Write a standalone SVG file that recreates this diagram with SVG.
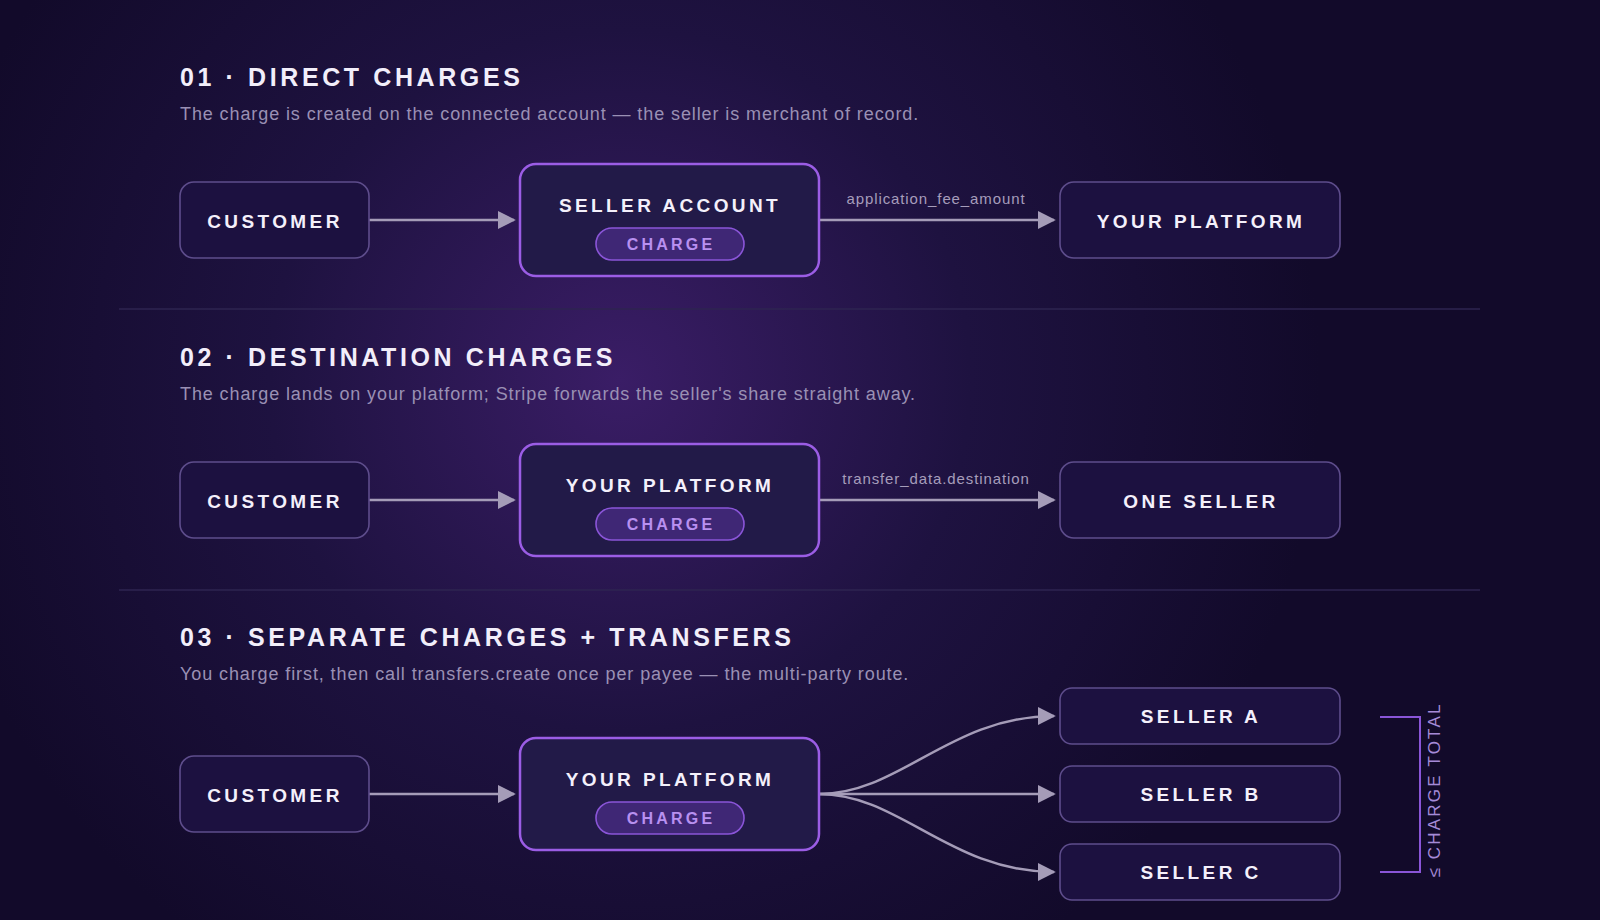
<svg xmlns="http://www.w3.org/2000/svg" width="1600" height="920" viewBox="0 0 1600 920">
<defs>
<radialGradient id="glow" cx="620" cy="380" r="700" gradientUnits="userSpaceOnUse">
<stop offset="0" stop-color="#3a1d66"/>
<stop offset="0.5" stop-color="#1e1240"/>
<stop offset="1" stop-color="#120a2a"/>
</radialGradient>
<marker id="ah" viewBox="0 0 10 10" refX="9" refY="5" markerWidth="18" markerHeight="18" markerUnits="userSpaceOnUse" orient="auto"><path d="M0,0 L10,5 L0,10 z" fill="#a59cb8"/></marker>
<style>
.title{font-family:"Liberation Sans",Arial,sans-serif;font-weight:bold;font-size:25px;letter-spacing:3.6px;fill:#f2eefa}
.sub{font-family:"Liberation Sans",Arial,sans-serif;font-size:18px;letter-spacing:0.9px;fill:#9a90b4}
.box{fill:#1c1140;stroke:#5e4d8c;stroke-width:1.6}
.main{fill:#221a48;stroke:#9b5de5;stroke-width:2.5}
.pill{fill:#3f2775;stroke:#8a55d8;stroke-width:1.6}
.lbl{font-family:"Liberation Sans",Arial,sans-serif;font-weight:bold;font-size:19px;letter-spacing:3.4px;fill:#f4f0fb;text-anchor:middle}
.plbl{font-family:"Liberation Sans",Arial,sans-serif;font-weight:bold;font-size:16px;letter-spacing:3.2px;fill:#b890f0;text-anchor:middle}
.edge{fill:none;stroke:#a59cb8;stroke-width:2.5;marker-end:url(#ah)}
.elbl{font-family:"Liberation Sans",Arial,sans-serif;font-size:15px;letter-spacing:0.9px;fill:#a69dbb;text-anchor:middle}
.div{stroke:#2e2450;stroke-width:1.5}
</style>
</defs>
<rect width="1600" height="920" fill="url(#glow)"/>
<text class="title" x="180" y="86">01 · DIRECT CHARGES</text>
<text class="sub" x="180" y="120">The charge is created on the connected account — the seller is merchant of record.</text>
<line class="div" x1="119" y1="309" x2="1480" y2="309"/>
<text class="title" x="180" y="366">02 · DESTINATION CHARGES</text>
<text class="sub" x="180" y="400">The charge lands on your platform; Stripe forwards the seller's share straight away.</text>
<line class="div" x1="119" y1="590" x2="1480" y2="590"/>
<text class="title" x="180" y="646">03 · SEPARATE CHARGES + TRANSFERS</text>
<text class="sub" x="180" y="680">You charge first, then call transfers.create once per payee — the multi-party route.</text>

<g id="connectors">
<line class="edge" x1="369" y1="220" x2="514" y2="220"/>
<line class="edge" x1="819" y1="220" x2="1054" y2="220"/>
<text class="elbl" x="936" y="204">application_fee_amount</text>
<line class="edge" x1="369" y1="500" x2="514" y2="500"/>
<line class="edge" x1="819" y1="500" x2="1054" y2="500"/>
<text class="elbl" x="936" y="484">transfer_data.destination</text>
<line class="edge" x1="369" y1="794" x2="514" y2="794"/>
<line class="edge" x1="819" y1="794" x2="1054" y2="794"/>
<path class="edge" d="M819,794 C900,794 950,716 1054,716"/>
<path class="edge" d="M819,794 C900,794 950,872 1054,872"/>
</g>

<g id="n1-customer"><rect class="box" x="180" y="182" width="189" height="76" rx="14"/><text class="lbl" x="275" y="228">CUSTOMER</text></g>
<g id="n1-seller"><rect class="main" x="520" y="164" width="299" height="112" rx="16"/><text class="lbl" x="670" y="212">SELLER ACCOUNT</text><rect class="pill" x="596" y="228" width="148" height="32" rx="16"/><text class="plbl" x="671" y="250">CHARGE</text></g>
<g id="n1-platform"><rect class="box" x="1060" y="182" width="280" height="76" rx="14"/><text class="lbl" x="1201" y="228">YOUR PLATFORM</text></g>

<g id="n2-customer"><rect class="box" x="180" y="462" width="189" height="76" rx="14"/><text class="lbl" x="275" y="508">CUSTOMER</text></g>
<g id="n2-platform"><rect class="main" x="520" y="444" width="299" height="112" rx="16"/><text class="lbl" x="670" y="492">YOUR PLATFORM</text><rect class="pill" x="596" y="508" width="148" height="32" rx="16"/><text class="plbl" x="671" y="530">CHARGE</text></g>
<g id="n2-seller"><rect class="box" x="1060" y="462" width="280" height="76" rx="14"/><text class="lbl" x="1201" y="508">ONE SELLER</text></g>

<g id="n3-customer"><rect class="box" x="180" y="756" width="189" height="76" rx="14"/><text class="lbl" x="275" y="802">CUSTOMER</text></g>
<g id="n3-platform"><rect class="main" x="520" y="738" width="299" height="112" rx="16"/><text class="lbl" x="670" y="786">YOUR PLATFORM</text><rect class="pill" x="596" y="802" width="148" height="32" rx="16"/><text class="plbl" x="671" y="824">CHARGE</text></g>
<g id="n3-a"><rect class="box" x="1060" y="688" width="280" height="56" rx="12"/><text class="lbl" x="1201" y="723">SELLER A</text></g>
<g id="n3-b"><rect class="box" x="1060" y="766" width="280" height="56" rx="12"/><text class="lbl" x="1201" y="801">SELLER B</text></g>
<g id="n3-c"><rect class="box" x="1060" y="844" width="280" height="56" rx="12"/><text class="lbl" x="1201" y="879">SELLER C</text></g>

<g id="bracket">
<path d="M1380,717 H1420 V872 H1380" fill="none" stroke="#8a55d8" stroke-width="2"/>
<text x="1440" y="790" transform="rotate(-90 1440 790)" text-anchor="middle" font-family="Liberation Sans, Arial, sans-serif" font-size="17" letter-spacing="2.2" fill="#a58ad8">≤ CHARGE TOTAL</text>
</g>
</svg>
